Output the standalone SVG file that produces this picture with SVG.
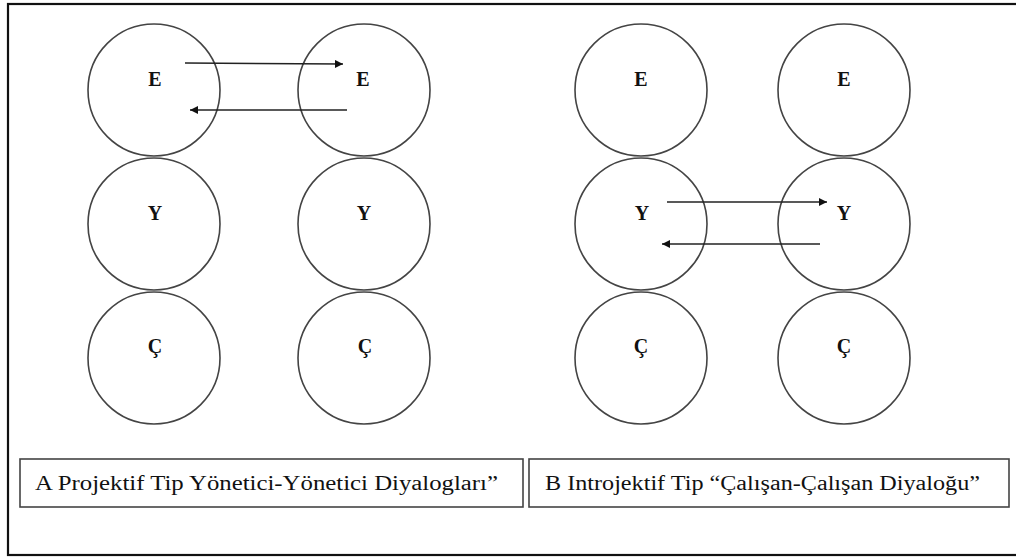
<svg xmlns="http://www.w3.org/2000/svg" width="1016" height="558" viewBox="0 0 1016 558">
<style>
.c{fill:none;stroke:#444;stroke-width:1.6}
.t{font-family:"Liberation Serif","DejaVu Serif",serif;font-weight:bold;font-size:20px;fill:#111;text-anchor:middle}
.a{stroke:#222;stroke-width:1.5;fill:none;marker-end:url(#ah)}
.box{fill:#fff;stroke:#444;stroke-width:1.6}
.lb{font-family:"Liberation Serif","DejaVu Serif",serif;font-size:20px;fill:#111}
</style>
<defs>
<marker id="ah" viewBox="0 0 10 10" refX="10" refY="5" markerWidth="12" markerHeight="8" markerUnits="userSpaceOnUse" orient="auto">
<path d="M0,0 L10,5 L0,10 z" fill="#111"/>
</marker>
</defs>
<rect x="8" y="4" width="1020" height="551" fill="#fff" stroke="#111" stroke-width="2.2"/>
<g id="nA-E1"><circle class="c" cx="154" cy="90" r="66"/><text class="t" x="155" y="86">E</text></g>
<g id="nA-E2"><circle class="c" cx="364" cy="90" r="66"/><text class="t" x="363" y="86">E</text></g>
<g id="nA-Y1"><circle class="c" cx="154" cy="224" r="66"/><text class="t" x="155" y="220">Y</text></g>
<g id="nA-Y2"><circle class="c" cx="364" cy="224" r="66"/><text class="t" x="364" y="220">Y</text></g>
<g id="nA-C1"><circle class="c" cx="154" cy="358" r="66"/><text class="t" x="155" y="353">Ç</text></g>
<g id="nA-C2"><circle class="c" cx="364" cy="358" r="66"/><text class="t" x="365" y="353">Ç</text></g>
<g id="nB-E1"><circle class="c" cx="641" cy="90" r="66"/><text class="t" x="641" y="86">E</text></g>
<g id="nB-E2"><circle class="c" cx="844" cy="90" r="66"/><text class="t" x="844" y="86">E</text></g>
<g id="nB-Y1"><circle class="c" cx="641" cy="224" r="66"/><text class="t" x="642" y="220">Y</text></g>
<g id="nB-Y2"><circle class="c" cx="844" cy="224" r="66"/><text class="t" x="844" y="220">Y</text></g>
<g id="nB-C1"><circle class="c" cx="641" cy="358" r="66"/><text class="t" x="641" y="353">Ç</text></g>
<g id="nB-C2"><circle class="c" cx="844" cy="358" r="66"/><text class="t" x="844" y="353">Ç</text></g>
<g id="connectors">
<line class="a" x1="185" y1="63" x2="343" y2="64"/>
<line class="a" x1="347" y1="110" x2="190" y2="110"/>
<line class="a" x1="667" y1="202" x2="827" y2="202"/>
<line class="a" x1="820" y1="244" x2="662" y2="244"/>
</g>
<g id="labelA"><rect class="box" x="20" y="459" width="503" height="48"/><text class="lb" x="35" y="490" textLength="463" lengthAdjust="spacingAndGlyphs">A Projektif Tip Yönetici-Yönetici Diyalogları”</text></g>
<g id="labelB"><rect class="box" x="529" y="459" width="480" height="48"/><text class="lb" x="545" y="490" textLength="435" lengthAdjust="spacingAndGlyphs">B Introjektif Tip “Çalışan-Çalışan Diyaloğu”</text></g>
</svg>
